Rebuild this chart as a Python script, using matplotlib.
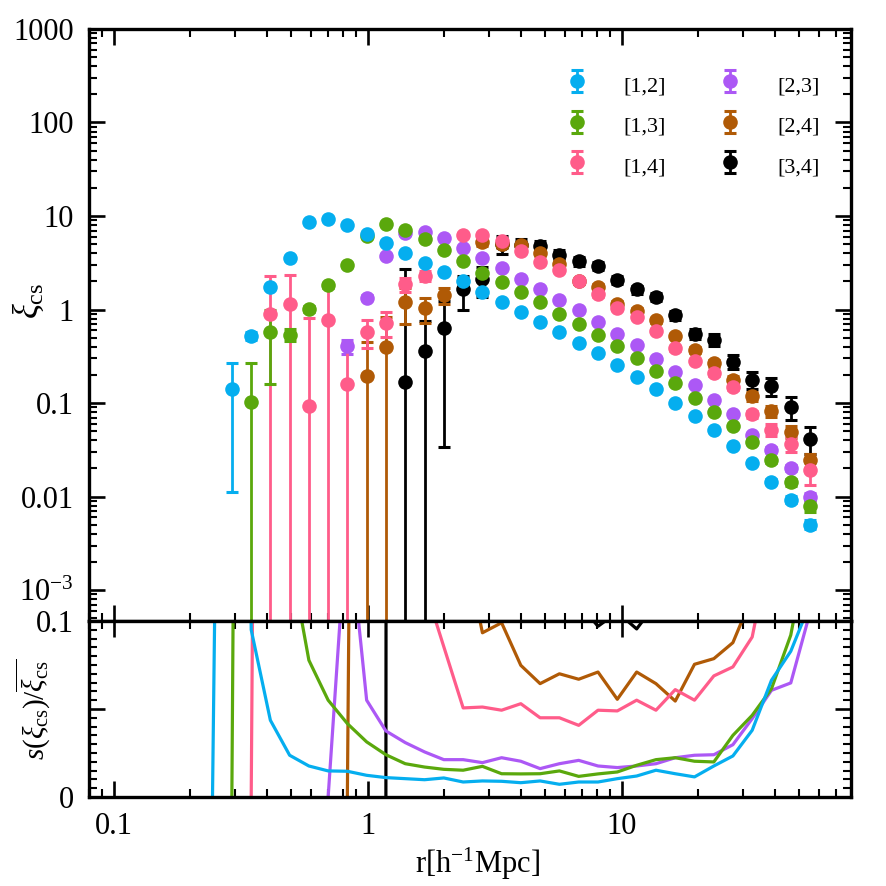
import numpy as np
import matplotlib
matplotlib.use("Agg")
import matplotlib.pyplot as plt
from matplotlib.ticker import FixedLocator, FixedFormatter, LogLocator, MultipleLocator, NullFormatter

nan = np.nan

# separation bins r [h^-1 Mpc] (first bin is where the curves start at zero)
r = [0.245, 0.292, 0.348, 0.414, 0.493, 0.587, 0.699, 0.832, 0.991, 1.180, 1.406,
     1.675, 1.995, 2.377, 2.831, 3.368, 4.009, 4.775, 5.689, 6.776, 8.072, 9.616,
     11.46, 13.65, 16.26, 19.36, 23.07, 27.42, 32.66, 38.90, 46.34, 55.21]

labels = ["[1,2]", "[1,3]", "[1,4]", "[2,3]", "[2,4]", "[3,4]"]
colors = ["#05AEEF", "#5AA80C", "#FF5C8A", "#AC58F5", "#B05A06", "#000000"]

xi_12 = [nan, 0.141, 0.525, 1.73, 3.56, 8.55, 9.29, 8.05, 6.40, 5.21, 4.07, 3.18, 2.54,
         2.02, 1.53, 1.21, 0.951, 0.736, 0.570, 0.442, 0.342, 0.258, 0.192, 0.140,
         0.101, 0.0736, 0.0521, 0.0348, 0.0230, 0.0145, 0.00929, 0.00501]
xi_13 = [nan, nan, 0.103, 0.575, 0.538, 1.02, 1.82, 2.97, 6.14, 8.28, 7.13, 5.66, 4.31,
         3.31, 2.48, 1.95, 1.55, 1.20, 0.899, 0.706, 0.538, 0.410, 0.307, 0.221, 0.165,
         0.114, 0.0794, 0.0570, 0.0384, 0.0244, 0.0142, 0.0080]
xi_14 = [nan, nan, nan, 0.906, 1.16, 0.0933, 0.767, 0.158, 0.575, 0.719, 1.86, 2.28, nan,
         6.24, 6.28, 5.44, 4.27, 3.23, 2.63, 2.02, 1.45, 1.04, 0.834, 0.585, 0.387,
         0.283, 0.208, 0.148, 0.0755, 0.0521, 0.0368, 0.0194]
xi_23 = [nan, nan, nan, nan, nan, nan, nan, 0.404, 1.34, 3.74, 6.52, 6.67, 5.79, 4.60,
         3.55, 2.77, 2.12, 1.65, 1.25, 0.984, 0.731, 0.552, 0.413, 0.297, 0.217, 0.156,
         0.108, 0.0762, 0.0460, 0.0318, 0.0203, 0.0100]
xi_24 = [nan, nan, nan, nan, nan, nan, nan, nan, 0.197, 0.397, 1.21, 1.03, 1.42, nan,
         5.31, 5.00, 4.88, 4.06, 3.05, 2.00, 1.74, 1.16, 0.959, 0.767, 0.525, 0.372,
         0.267, 0.177, 0.119, 0.0820, 0.0492, 0.0244]
xi_34 = [nan, nan, nan, nan, nan, nan, nan, nan, nan, nan, 0.169, 0.362, 0.635, 1.65,
         2.12, 5.00, 4.90, 4.79, 3.85, 3.31, 2.92, 2.09, 1.64, 1.37, 0.869, 0.552,
         0.475, 0.278, 0.177, 0.153, 0.0912, 0.0417]

# relative errors s(xi)/xi (bottom panel)
rel_12 = [0, 0.92, 0.095, 0.0436, 0.0237, 0.0176, 0.0148, 0.0146, 0.0123, 0.011, 0.0104,
          0.0098, 0.0108, 0.0085, 0.0091, 0.0089, 0.0081, 0.0091, 0.0072, 0.0085, 0.0085,
          0.0104, 0.0119, 0.0152, 0.0132, 0.0114, 0.0176, 0.0233, 0.0379, 0.0663, 0.0828, 0.11]
rel_13 = [nan, 0, 1.6, 0.72, 0.138, 0.0777, 0.055, 0.0417, 0.0313, 0.024, 0.0189, 0.017,
          0.0157, 0.0152, 0.0174, 0.0132, 0.0131, 0.0132, 0.0148, 0.0117, 0.0131, 0.0142,
          0.018, 0.0212, 0.0223, 0.0203, 0.0199, 0.035, 0.0464, 0.0615, 0.092, 0.15]
rel_14 = [nan, nan, 0, 1.52, 1.02, 7.8, 1.5, 1.8, 0.33, 0.3, 0.17, 0.12, nan, 0.0506,
          0.0511, 0.0493, 0.053, 0.045, 0.045, 0.0407, 0.0493, 0.0489, 0.055, 0.0493,
          0.061, 0.055, 0.0688, 0.0739, 0.0909, 0.145, 0.18, 0.32]
rel_23 = [nan, nan, nan, nan, nan, nan, 0, 0.162, 0.055, 0.0375, 0.0309, 0.0256, 0.0212,
          0.0212, 0.0195, 0.0223, 0.0203, 0.0161, 0.0189, 0.0208, 0.0176, 0.0167, 0.0176,
          0.0189, 0.0223, 0.0237, 0.024, 0.0297, 0.0445, 0.0606, 0.0648, 0.105]
rel_24 = [nan, nan, nan, nan, nan, nan, nan, 0, 1.3, 1.1, 0.42, 0.3, 0.2, nan, 0.0933,
          0.099, 0.0748, 0.0644, 0.07, 0.0669, 0.071, 0.0555, 0.071, 0.0644, 0.0545,
          0.0754, 0.0786, 0.0877, 0.114, 0.13, 0.15, 0.18]
rel_34 = [nan, nan, nan, nan, nan, nan, nan, nan, nan, 0, 15, 1.07, 0.946, 0.4, 0.35,
          0.22, 0.16, 0.13, 0.12, 0.11, 0.097, 0.105, 0.0955, 0.11, 0.12, 0.13, 0.14,
          0.17, 0.2, 0.22, 0.27, 0.32]

xis = [xi_12, xi_13, xi_14, xi_23, xi_24, xi_34]
rels = [rel_12, rel_13, rel_14, rel_23, rel_24, rel_34]

yticks_top = [1e-3, 1e-2, 1e-1, 1, 10, 100, 1000]
ytick_labels_top = [r"$10^{-3}$", "0.01", "0.1", "1", "10", "100", "1000"]
xticks = [0.1, 1, 10]
xtick_labels = ["0.1", "1", "10"]

plt.rcParams["font.family"] = "Liberation Serif"
plt.rcParams["mathtext.fontset"] = "custom"
plt.rcParams["mathtext.rm"] = "Liberation Serif"
plt.rcParams["mathtext.it"] = "Liberation Serif:italic"
plt.rcParams["mathtext.bf"] = "Liberation Serif:bold"

fig = plt.figure(figsize=(8.86, 8.86), dpi=100)
ax1 = fig.add_axes([0.1005, 0.2991, 0.86, 0.6682])
ax2 = fig.add_axes([0.1005, 0.1005, 0.86, 0.1986], sharex=ax1)

r_arr = np.array(r)
handles = [None] * 6
for k in reversed(range(6)):
    xi = np.array(xis[k], dtype=float)
    rel = np.array(rels[k], dtype=float)
    m = ~np.isnan(xi)
    err = rel[m] * xi[m]
    lower = np.minimum(err, xi[m] * (1 - 1e-7))
    h = ax1.errorbar(r_arr[m], xi[m], yerr=[lower, err], fmt="o", color=colors[k],
                     ms=10.5, elinewidth=2.0, capsize=4.6, capthick=2.2,
                     label=labels[k])
    h[0].set_markeredgewidth(0)
    handles[k] = h
    mb = ~np.isnan(rel)
    ax2.plot(r_arr[mb], rel[mb], color=colors[k], lw=2.3)

ax1.set_xscale("log")
ax1.set_yscale("log")
ax1.set_xlim(0.08, 80)
ax1.set_ylim(10 ** -3.33, 1000)
ax1.yaxis.set_major_locator(FixedLocator(yticks_top))
ax1.yaxis.set_major_formatter(FixedFormatter(ytick_labels_top))
ax1.yaxis.set_minor_locator(LogLocator(base=10, subs=np.arange(2, 10), numticks=20))
ax1.yaxis.set_minor_formatter(NullFormatter())
ax1.xaxis.set_major_locator(FixedLocator(xticks))
ax1.xaxis.set_minor_locator(LogLocator(base=10, subs=np.arange(2, 10), numticks=20))
ax1.tick_params(axis="x", labelbottom=False)

ax2.set_ylim(0, 0.1)
ax2.yaxis.set_major_locator(FixedLocator([0, 0.05, 0.1]))
ax2.yaxis.set_major_formatter(FixedFormatter(["0", "", "0.1"]))
ax2.yaxis.set_minor_locator(MultipleLocator(0.005))
ax2.xaxis.set_major_locator(FixedLocator(xticks))
ax2.xaxis.set_major_formatter(FixedFormatter(xtick_labels))
ax2.xaxis.set_minor_locator(LogLocator(base=10, subs=np.arange(2, 10), numticks=20))
ax2.xaxis.set_minor_formatter(NullFormatter())

for ax in (ax1, ax2):
    for s in ax.spines.values():
        s.set_linewidth(2.4)
    ax.tick_params(which="both", direction="in", top=True, right=True)
    ax.tick_params(which="major", length=11.5, width=1.9, labelsize=22, pad=11)
    ax.tick_params(which="minor", length=5.5, width=1.5)

ax1.set_ylabel(r"$\xi_{\rm cs}$", fontsize=25)
ax1.yaxis.set_label_coords(-0.057, 0.54)
ax2.set_ylabel(r"$s(\xi_{\rm cs})/\overline{\xi_{\rm cs}}$", fontsize=21)
ax2.yaxis.set_label_coords(-0.048, 0.5)
ax2.set_xlabel(r"r[h$^{-1}$Mpc]", fontsize=22)
ax2.xaxis.set_label_coords(0.51, -0.28)

ax1.legend(handles=handles, labels=labels, loc="upper right", ncol=2, frameon=False,
           fontsize=16, handletextpad=1.5, columnspacing=2.3, labelspacing=0.72,
           handlelength=1.2, handleheight=1.3, bbox_to_anchor=(0.985, 0.962))

fig.savefig("out.png", dpi=100)
